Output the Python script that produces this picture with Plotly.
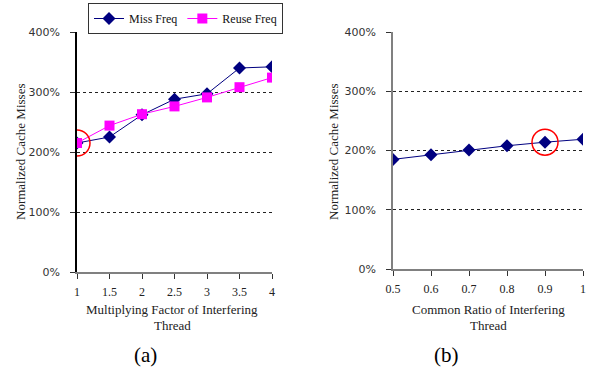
import plotly.graph_objects as go

# Data
factor = [1, 1.5, 2, 2.5, 3, 3.5, 4]
miss_freq_a = [215, 225, 262, 288, 297, 340, 342]
reuse_freq_a = [215, 244, 263, 276, 291, 308, 324]
ratio = [0.5, 0.6, 0.7, 0.8, 0.9, 1.0]
miss_freq_b = [185, 193, 201, 208, 214, 219]
y_ticks = [0, 100, 200, 300, 400]
y_tick_labels = ["0%", "100%", "200%", "300%", "400%"]

W, H = 589, 375
NAVY = "#000080"
MAG = "#FF00FF"
SERIF = "Liberation Serif, Times New Roman, serif"
SANS = "DejaVu Sans, Verdana, sans-serif"

fig = go.Figure()
fig.add_trace(go.Scatter(x=factor, y=miss_freq_a, name="Miss Freq", mode="lines+markers",
                         line=dict(color=NAVY, width=1),
                         marker=dict(symbol="diamond", size=10, color=NAVY),
                         xaxis="x", yaxis="y"))
fig.add_trace(go.Scatter(x=factor, y=reuse_freq_a, name="Reuse Freq", mode="lines+markers",
                         line=dict(color=MAG, width=1),
                         marker=dict(symbol="square", size=10, color=MAG),
                         xaxis="x", yaxis="y"))
fig.add_trace(go.Scatter(x=ratio, y=miss_freq_b, name="Miss Freq", mode="lines+markers",
                         line=dict(color=NAVY, width=1),
                         marker=dict(symbol="diamond", size=10, color=NAVY),
                         showlegend=False, xaxis="x2", yaxis="y2"))

def xax(dom, rng, dtick, anchor):
    return dict(domain=dom, range=rng, dtick=dtick, tick0=rng[0], anchor=anchor,
                showline=True, linecolor="#808080", linewidth=2,
                ticks="outside", ticklen=5, tickcolor="#333", tickwidth=1,
                showgrid=False, zeroline=False, ticklabelstandoff=3, automargin=False,
                tickfont=dict(family=SERIF, size=12, color="#222"))

def yax(dom, anchor, lc):
    return dict(domain=dom, range=[0, 400], tickvals=y_ticks, ticktext=y_tick_labels,
                anchor=anchor, showline=True, linecolor=lc, linewidth=1.5,
                ticks="outside", ticklen=5, tickcolor="#333",
                showgrid=True, gridcolor="#222", griddash="dot", gridwidth=1,
                zeroline=False, ticklabelstandoff=8, automargin=False,
                tickfont=dict(family=SANS, size=11, color="#333"))

fig.update_layout(
    width=W, height=H, margin=dict(l=0, r=0, t=0, b=0, autoexpand=False),
    paper_bgcolor="white", plot_bgcolor="white",
    xaxis=xax([77 / W, 272 / W], [1, 4], 0.5, "y"),
    yaxis=yax([103 / H, 343 / H], "x", "black"),
    xaxis2=xax([393 / W, 583 / W], [0.5, 1.0], 0.1, "y2"),
    yaxis2=yax([106 / H, 343 / H], "x2", "#808080"),
    legend=dict(orientation="h", x=88 / W, y=(H - 3) / H, xanchor="left", yanchor="top",
                bgcolor="white", bordercolor="#333", borderwidth=1,
                font=dict(family=SERIF, size=12, color="#111"),
                itemwidth=30, tracegroupgap=0),
    showlegend=True,
)

# Red highlight circles (pixel-sized, anchored at data points)
for xr, yr, xv, yv in [("x", "y", factor[0], reuse_freq_a[0]), ("x2", "y2", ratio[4], miss_freq_b[4])]:
    fig.add_shape(type="circle", xref=xr, yref=yr, xsizemode="pixel", ysizemode="pixel",
                  xanchor=xv, yanchor=yv, x0=-13, x1=13, y0=-13, y1=13,
                  line=dict(color="red", width=1.5))

ann = []
def add_ann(px, py, text, font, angle=0):
    ann.append(dict(x=px / W, y=(H - py) / H, xref="paper", yref="paper", text=text,
                    xanchor="center", yanchor="middle", textangle=angle,
                    showarrow=False, font=font))

for cx, t1 in [(172, "Multiplying Factor of Interfering"), (488, "Common Ratio of Interfering")]:
    add_ann(cx, 309, t1, dict(family=SERIF, size=13, color="#222"))
    add_ann(cx, 325, "Thread", dict(family=SERIF, size=13, color="#222"))
for px, py in [(20, 152), (333, 152)]:
    add_ann(px, py, "Normalized Cache Misses", dict(family=SERIF, size=13, color="#222"), -90)
for px, t in [(145, "(a)"), (447, "(b)")]:
    add_ann(px, 355, t, dict(family=SERIF, size=21, color="black"))
fig.update_layout(annotations=ann)

fig.write_html("out.html", config={"displayModeBar": False},
               post_script="document.body.style.margin='0';")
